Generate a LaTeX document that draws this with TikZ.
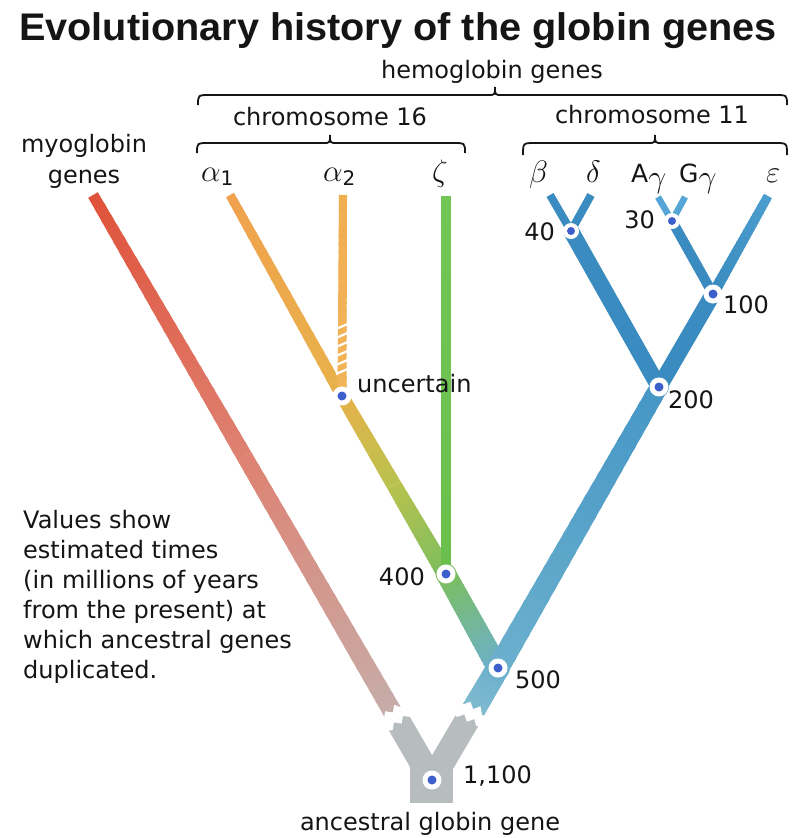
\RequirePackage{fix-cm}
\documentclass[tikz,border=0pt]{standalone}
\usepackage{fontspec}
\usetikzlibrary{calc}
\newfontfamily\pix{DejaVu Sans}
\newfontfamily\ttl{Liberation Sans}
\definecolor{gbase}{HTML}{B7BCBF}
\definecolor{myoA}{HTML}{E0523A}
\definecolor{myoB}{HTML}{DE8272}
\definecolor{myoC}{HTML}{C6AEAA}
\definecolor{blA}{HTML}{82BCD0}
\definecolor{blB}{HTML}{6CB0CD}
\definecolor{blC}{HTML}{4596C6}
\definecolor{blD}{HTML}{3A8BBF}
\definecolor{blE}{HTML}{4C9ECF}
\definecolor{blF}{HTML}{55A6D6}
\definecolor{grA}{HTML}{7CBE5E}
\definecolor{grB}{HTML}{6BBF4B}
\definecolor{grC}{HTML}{72C655}
\definecolor{ygA}{HTML}{B8C24E}
\definecolor{orA}{HTML}{E8B24A}
\definecolor{orB}{HTML}{F0A24E}
\definecolor{orC}{HTML}{F2B458}
\definecolor{orD}{HTML}{F1AE50}
\definecolor{dotc}{HTML}{3D5FCC}
\definecolor{ink}{HTML}{151515}
\newcommand\gseg[6]{%
  \foreach \i in {1,...,24}{%
    \pgfmathtruncatemacro\pc{round(100-(\i-0.5)*100/24)}%
    \pgfmathsetmacro\lw{#5+(#6-#5)*(\i-0.5)/24}%
    \pgfmathsetmacro\ta{(\i-1)/24}%
    \pgfmathsetmacro\tb{min(1,\i/24+0.015)}%
    \draw[line width=\lw pt, draw={#3!\pc!#4}] ($(#1)!\ta!(#2)$) -- ($(#1)!\tb!(#2)$);
  }}
\newcommand\subg{\raisebox{-5pt}{\fontsize{32}{32}\selectfont$\gamma$}}
\tikzset{
  lbl/.style={font=\pix\fontsize{24}{30}\selectfont, text=ink, inner sep=0pt},
  grk/.style={font=\fontsize{31}{31}\selectfont, text=ink, inner sep=0pt},
  brc/.style={draw=ink, line width=1.8pt},
  ring/.style={circle, fill=white, inner sep=0pt, minimum size=19pt},
  smallring/.style={circle, fill=white, inner sep=0pt, minimum size=16pt},
  dot/.style={circle, fill=dotc, inner sep=0pt, minimum size=9pt}
}
\begin{document}
\begin{tikzpicture}[x=1pt,y=-1pt, line cap=butt]
\useasboundingbox (0,0) rectangle (794,838);
\fill[white] (0,0) rectangle (794,838);

% key points
\coordinate (root) at (432,780);
\coordinate (n500) at (498,668);
\coordinate (n400) at (446,574);
\coordinate (unc) at (342,396);
\coordinate (n200) at (659,387);
\coordinate (n100) at (713,294);
\coordinate (n40) at (571,231);
\coordinate (n30) at (672,221);
\coordinate (tmyo) at (93,195);
\coordinate (ta1) at (230,195);
\coordinate (ta2) at (343,195);
\coordinate (tz) at (446,196);
\coordinate (tb) at (550,195);
\coordinate (td) at (591,195);
\coordinate (tAg) at (658,197);
\coordinate (tGg) at (685,197);
\coordinate (te) at (768,196);
\coordinate (gL) at ($(root)!72pt!(tmyo)$);
\coordinate (gR) at ($(root)!76pt!(n500)$);
\coordinate (mmyo) at ($(tmyo)!0.5!(gL)$);
\coordinate (mu) at ($(n400)!0.5!(unc)$);

% ancestral grey Y
\fill[gbase] (410,760) rectangle (453,803);
\draw[gbase, line width=25pt] (root) -- (gL);
\draw[gbase, line width=25pt] (root) -- (gR);

% myoglobin branch
\gseg{tmyo}{mmyo}{myoA}{myoB}{11}{16}
\gseg{mmyo}{gL}{myoB}{myoC}{16}{19}

% hemoglobin trunk
\gseg{gR}{n500}{blA}{blB}{24}{23}
\gseg{n500}{n400}{blB}{grA}{22}{20}
\gseg{n400}{mu}{grA}{ygA}{18}{15}
\gseg{mu}{unc}{ygA}{orA}{15}{13}
\gseg{n400}{tz}{grB}{grC}{10}{9}
\gseg{unc}{ta1}{orA}{orB}{12}{9}
\gseg{unc}{ta2}{orC}{orD}{9}{8}
\gseg{n500}{n200}{blB}{blC}{22}{18}
\draw[blD, line width=16pt] (n200) -- (n40);
\draw[blD, line width=16pt] (n200) -- (n100);
\gseg{n100}{te}{blD}{blE}{11}{9}
\draw[blD, line width=10pt] (n100) -- (n30);
\draw[blD, line width=8pt] (n40) -- (tb);
\draw[blD, line width=8pt] (n40) -- (td);
\draw[blF, line width=6.5pt] (n30) -- (tAg);
\draw[blF, line width=6.5pt] (n30) -- (tGg);

% torn gaps
\begin{scope}[shift={(root)}, rotate=120.1]
\fill[white] (66,-17) -- (63,-9) -- (69,-4) -- (64,2) -- (70,7) -- (66,12) -- (67,17)
  -- (81,17) -- (77,11) -- (84,5) -- (78,0) -- (83,-6) -- (77,-11) -- (80,-17) -- cycle;
\end{scope}
\begin{scope}[shift={(root)}, rotate=59.9]
\fill[white] (70,-17) -- (67,-10) -- (73,-5) -- (68,1) -- (74,6) -- (69,11) -- (71,17)
  -- (85,17) -- (81,11) -- (88,5) -- (82,0) -- (87,-6) -- (81,-11) -- (84,-17) -- cycle;
\end{scope}

% uncertain hatching on alpha2
\foreach \k in {0,...,5}
  \draw[white, line width=2.2pt] (336,{326+9*\k+3}) -- (350,{326+9*\k-3});

% junction fills
\fill[blB] (n500) circle (12);
\fill[grA] (n400) circle (10.5);
\fill[blC] (n200) circle (10);

% node markers
\foreach \n in {root,n500,n400,unc,n200,n100}{
  \node[ring] (r\n) at (\n) {};
  \node[dot] (d\n) at (\n) {};
}
\foreach \n in {n40,n30}{
  \node[smallring] (r\n) at (\n) {};
  \node[dot, minimum size=8pt] (d\n) at (\n) {};
}

% title
\node[font=\ttl\bfseries\fontsize{38.5}{40}\selectfont, text=ink, inner sep=0pt, anchor=base] (title) at (398,40) {\scalebox{1.03}[1]{Evolutionary history of the globin genes}};

% braces
\draw[brc] (198,105) .. controls (198,95) .. (210,95) -- (488,95) .. controls (495,95) .. (495,87) .. controls (495,95) .. (502,95) -- (775,95) .. controls (787,95) .. (787,105);
\draw[brc] (197,153) .. controls (197,143) .. (209,143) -- (323,143) .. controls (330,143) .. (330,135) .. controls (330,143) .. (337,143) -- (453,143) .. controls (465,143) .. (465,153);
\draw[brc] (523,155) .. controls (523,143) .. (535,143) -- (648,143) .. controls (655,143) .. (655,135) .. controls (655,143) .. (662,143) -- (775,143) .. controls (787,143) .. (787,155);

% group labels
\node[lbl, anchor=base] (hemo) at (492,78) {hemoglobin genes};
\node[lbl, anchor=base] (chr16) at (330,125) {chromosome 16};
\node[lbl, anchor=base] (chr11) at (652,123) {chromosome 11};
\node[lbl, anchor=base] (myo1) at (84,152) {myoglobin};
\node[lbl, anchor=base] (myo2) at (84,183) {genes};

% gene labels
\node[grk, anchor=base west] (la1) at (201,181) {$\alpha_{\textrm{\pix\fontsize{20}{20}\selectfont 1}}$};
\node[grk, anchor=base west] (la2) at (323,181) {$\alpha_{\textrm{\pix\fontsize{20}{20}\selectfont 2}}$};
\node[grk, anchor=base west] (lz) at (432,181) {$\zeta$};
\node[grk, anchor=base west] (lb) at (529,182) {$\beta$};
\node[grk, anchor=base west] (ld) at (586,182) {$\delta$};
\node[grk, anchor=base west] (lAg) at (631,182) {{\pix\fontsize{25}{30}\selectfont A}\subg};
\node[grk, anchor=base west] (lGg) at (679,182) {{\pix\fontsize{25}{30}\selectfont G}\subg};
\node[grk, anchor=base west] (le) at (766,182) {$\varepsilon$};

% time labels
\node[lbl, anchor=base west] (tunc) at (357,392) {uncertain};
\node[lbl, anchor=base east] (t400) at (425,585) {400};
\node[lbl, anchor=base west] (t500) at (515,688) {500};
\node[lbl, anchor=base west] (t1100) at (463,783) {1,100};
\node[lbl, anchor=base west] (t200) at (668,408) {200};
\node[lbl, anchor=base west] (t100) at (723,313) {100};
\node[lbl, anchor=base east] (t40) at (555,240) {40};
\node[lbl, anchor=base east] (t30) at (655,228) {30};
\node[lbl, anchor=base] (anc) at (430,830) {ancestral globin gene};

% note
\foreach \t [count=\j] in {{Values show}, {estimated times}, {(in millions of years}, {from the present) at}, {which ancestral genes}, {duplicated.}}
  \node[lbl, anchor=base west] (note\j) at (23,{528+30*(\j-1)}) {\t};
\end{tikzpicture}
\end{document}
